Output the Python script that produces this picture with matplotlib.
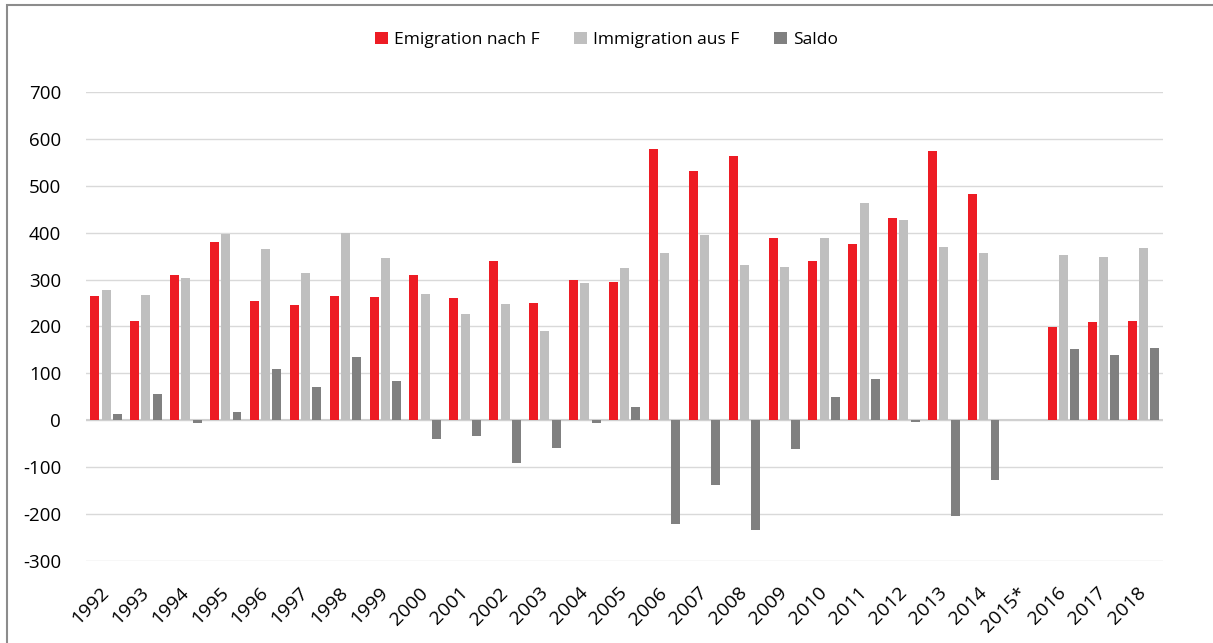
import matplotlib.pyplot as plt
import matplotlib.patches as mpatches
import numpy as np

years = ['1992', '1993', '1994', '1995', '1996', '1997', '1998', '1999', '2000',
         '2001', '2002', '2003', '2004', '2005', '2006', '2007', '2008', '2009',
         '2010', '2011', '2012', '2013', '2014', '2015*', '2016', '2017', '2018']
emigration = [265, 212, 309, 380, 255, 245, 266, 262, 309, 260, 339, 250, 300, 295,
              578, 532, 564, 388, 339, 375, 432, 575, 483, np.nan, 199, 209, 212]
immigration = [278, 267, 303, 397, 365, 315, 400, 345, 269, 226, 247, 191, 292, 324,
               356, 394, 331, 326, 388, 464, 428, 370, 356, np.nan, 352, 348, 367]
saldo = [13, 55, -6, 17, 110, 70, 134, 83, -40, -34, -92, -59, -6, 29,
         -222, -138, -233, -62, 49, 89, -4, -204, -127, np.nan, 153, 139, 155]

plt.rcParams['font.family'] = ['Open Sans', 'DejaVu Sans']
plt.rcParams['axes.unicode_minus'] = False

fig = plt.figure(figsize=(12.13, 6.43), dpi=100)
ax = fig.add_axes([0.071, 0.1275, 0.888, 0.7295])

x = np.arange(len(years))
w = 0.225
step = 0.282
ax.bar(x - step, emigration, w, color='#ED1C24', label='Emigration nach F', zorder=3)
ax.bar(x, immigration, w, color='#BFBFBF', label='Immigration aus F', zorder=3)
ax.bar(x + step, saldo, w, color='#808080', label='Saldo', zorder=3)

ax.set_xlim(-0.5, len(years) - 0.5)
ax.set_ylim(-300, 700)
ax.set_yticks(np.arange(-300, 701, 100))
ax.yaxis.grid(True, color='#D9D9D9', linewidth=1, zorder=0)
ax.axhline(0, color='#D0D0D0', linewidth=1.5, zorder=2)
for s in ax.spines.values():
    s.set_visible(False)
ax.tick_params(axis='both', length=0, labelsize=13.5)
ax.tick_params(axis='y', pad=18)
ax.set_xticks(x)
ax.set_xticklabels(years, rotation=45, ha='right', va='center', rotation_mode='anchor',
                   fontsize=14)
ax.tick_params(axis='x', pad=21)

leg = fig.legend(loc='upper center', bbox_to_anchor=(0.5, 0.975), ncol=3, frameon=False,
                 fontsize=12.5, handlelength=0.75, handleheight=0.75, handletextpad=0.35,
                 columnspacing=2.0)

fig.patches.append(mpatches.Rectangle((0.006, -0.05), 1.1, 1.042, transform=fig.transFigure,
                                      fill=False, edgecolor='#8C8C8C', linewidth=1.5))

fig.savefig('out.png', dpi=100)
